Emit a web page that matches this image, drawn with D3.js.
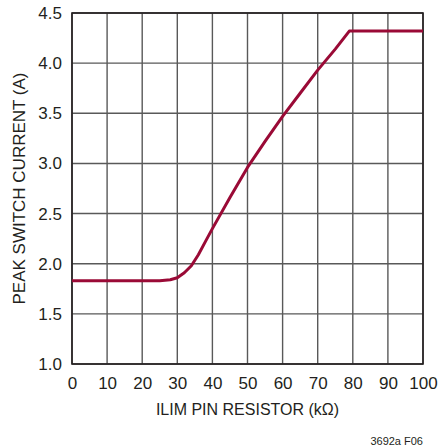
<!DOCTYPE html>
<html>
<head>
<meta charset="utf-8">
<script src="https://cdn.jsdelivr.net/npm/d3@7"></script>
<style>
  body { margin: 0; background: #fff; }
  text { font-family: "Liberation Sans Narrow", "Arial Narrow", "Liberation Sans", sans-serif; fill: #231f20; }
</style>
</head>
<body>
<div id="chart"></div>
<script>
// data (resistor kOhm, peak current A)
var resistor = [0, 25, 28, 30, 32, 34, 36, 38, 40, 45, 50, 55, 60, 65, 70, 75, 79, 100];
var current  = [1.83, 1.83, 1.84, 1.86, 1.91, 1.98, 2.09, 2.22, 2.35, 2.66, 2.96, 3.22, 3.47, 3.70, 3.93, 4.14, 4.32, 4.32];
var xTicks = [0, 10, 20, 30, 40, 50, 60, 70, 80, 90, 100];
var yTicks = [1.0, 1.5, 2.0, 2.5, 3.0, 3.5, 4.0, 4.5];

var W = 439, H = 446;
var margin = { top: 13, right: 16, bottom: 82, left: 72 };
var width = W - margin.left - margin.right;
var height = H - margin.top - margin.bottom;

var svg = d3.select("#chart").append("svg")
  .attr("width", W)
  .attr("height", H);

var g = svg.append("g")
  .attr("transform", "translate(" + margin.left + "," + margin.top + ")");

var x = d3.scaleLinear().domain([0, 100]).range([0, width]);
var y = d3.scaleLinear().domain([1.0, 4.5]).range([height, 0]);

// grid
g.append("g").selectAll("line")
  .data(xTicks)
  .enter().append("line")
  .attr("x1", function (d) { return x(d); })
  .attr("x2", function (d) { return x(d); })
  .attr("y1", 0).attr("y2", height)
  .attr("stroke", "#595959").attr("stroke-width", 1.4);

g.append("g").selectAll("line")
  .data(yTicks)
  .enter().append("line")
  .attr("y1", function (d) { return y(d); })
  .attr("y2", function (d) { return y(d); })
  .attr("x1", 0).attr("x2", width)
  .attr("stroke", "#595959").attr("stroke-width", 1.4);

// frame
g.append("rect")
  .attr("width", width).attr("height", height)
  .attr("fill", "none").attr("stroke", "#231f20").attr("stroke-width", 1.6);

// axes (labels only)
var xAxis = d3.axisBottom(x).tickValues(xTicks).tickSize(0).tickPadding(13)
  .tickFormat(d3.format("d"));
g.append("g")
  .attr("transform", "translate(0," + height + ")")
  .call(xAxis)
  .call(function (s) { s.select(".domain").remove(); })
  .selectAll("text")
  .attr("font-size", 17)
  .attr("dy", "0.71em")
  .style("font-family", null);

var yAxis = d3.axisLeft(y).tickValues(yTicks).tickSize(0).tickPadding(10)
  .tickFormat(d3.format(".1f"));
g.append("g")
  .call(yAxis)
  .call(function (s) { s.select(".domain").remove(); })
  .selectAll("text")
  .attr("font-size", 17)
  .style("font-family", null);

svg.selectAll(".tick text").attr("fill", "#231f20");

// curve
var pts = resistor.map(function (r, i) { return [r, current[i]]; });
var line = d3.line()
  .x(function (d) { return x(d[0]); })
  .y(function (d) { return y(d[1]); });

g.append("path")
  .datum(pts)
  .attr("d", line)
  .attr("fill", "none")
  .attr("stroke", "#9a0a36")
  .attr("stroke-width", 3)
  .attr("stroke-linejoin", "round");

// axis titles
svg.append("text")
  .attr("x", margin.left + width / 2)
  .attr("y", 415)
  .attr("text-anchor", "middle")
  .attr("font-size", 16)
  .text("ILIM PIN RESISTOR (k\u03A9)");

svg.append("text")
  .attr("transform", "translate(25," + (margin.top + height / 2) + ") rotate(-90)")
  .attr("text-anchor", "middle")
  .attr("font-size", 17)
  .text("PEAK SWITCH CURRENT (A)");

svg.append("text")
  .attr("x", 423)
  .attr("y", 445)
  .attr("text-anchor", "end")
  .attr("font-size", 11)
  .text("3692a F06");
</script>
</body>
</html>
